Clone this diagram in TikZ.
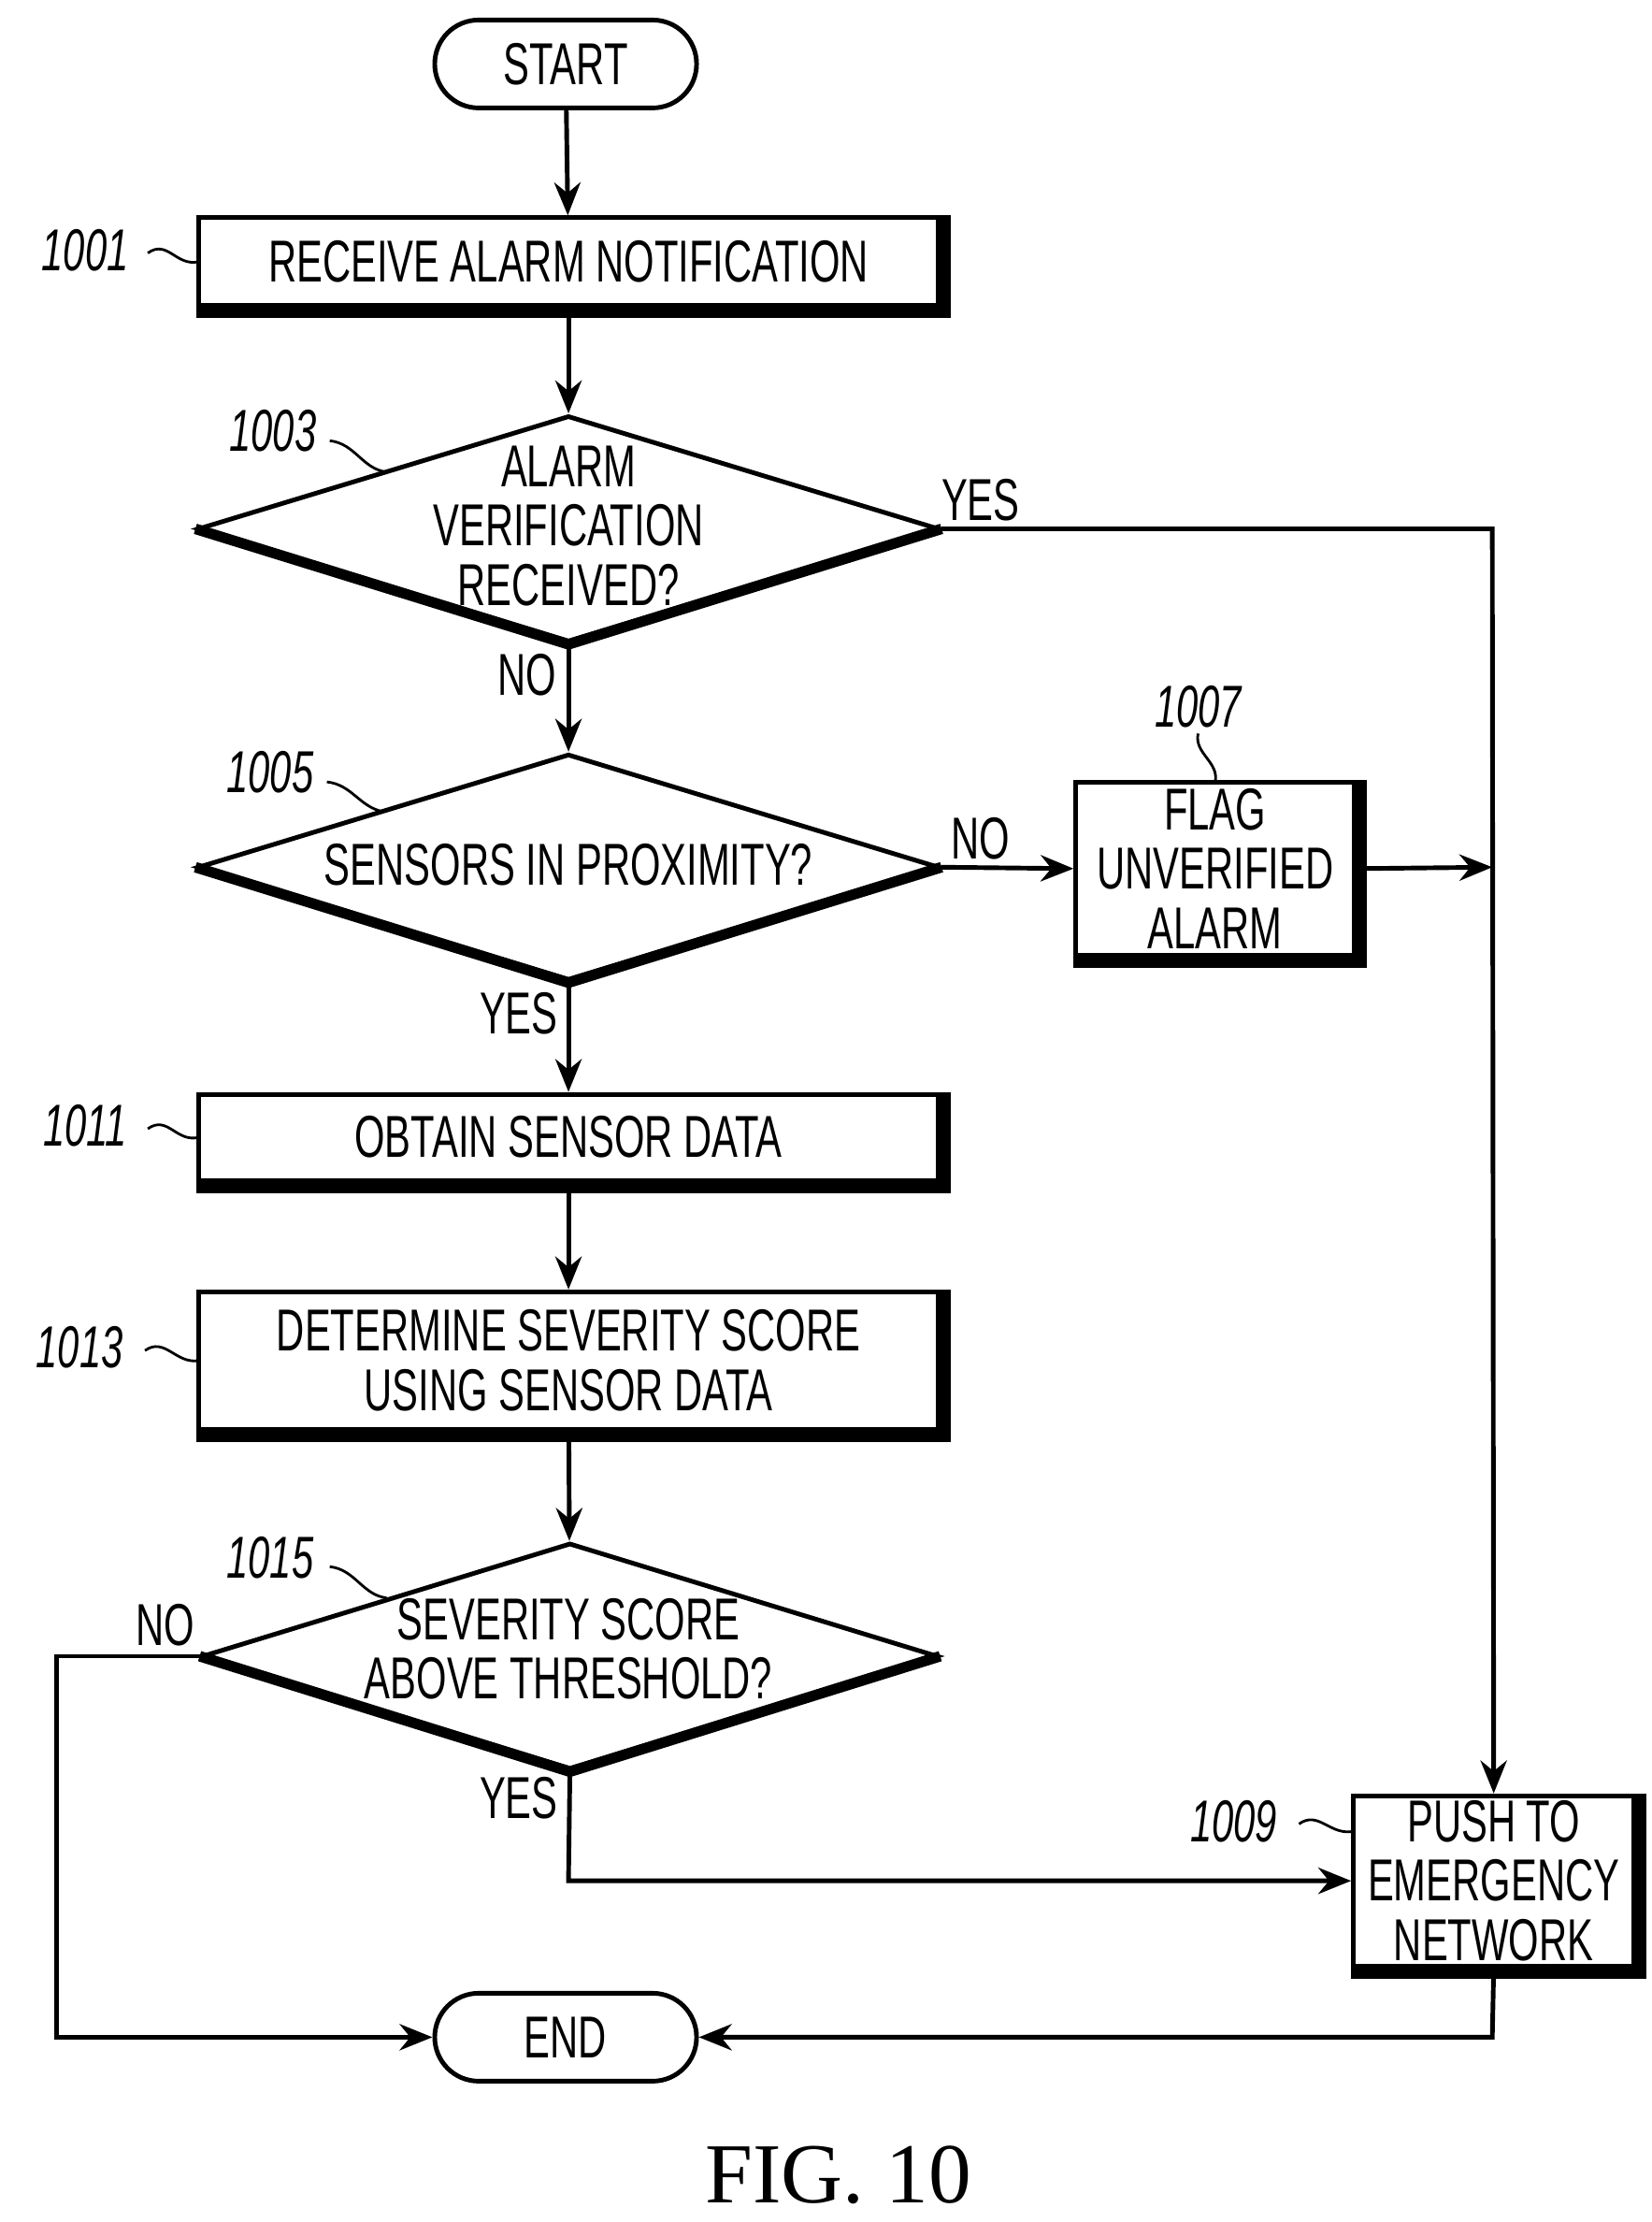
\documentclass[tikz,border=0pt]{standalone}
\usepackage{fontspec}
\setmainfont{Liberation Sans}[FakeStretch=0.66]
\newfontfamily\figfont{Liberation Serif}
\usetikzlibrary{shapes.geometric, shapes.misc, arrows.meta}

\tikzset{
  chart/.style={line width=1.4pt},
  procbox/.style={draw, chart, rectangle, align=center, inner sep=0pt, font=\fontsize{18}{18}\selectfont},
  term/.style={draw, chart, rounded rectangle, align=center, inner sep=0pt, minimum width=2.8cm, minimum height=0.94cm, font=\fontsize{18}{18}\selectfont},
  test/.style={draw, chart, diamond, inner sep=0pt, aspect=3.28, minimum width=7.93cm, minimum height=2.42cm},
  txt/.style={align=center, inner sep=0pt, font=\fontsize{18}{18}\selectfont},
  flow/.style={chart, -{Stealth[length=10pt,width=8pt]}},
  shade/.style={line width=3.2pt},
  refno/.style={font=\itshape\fontsize{18}{18}\selectfont},
  lbl/.style={font=\fontsize{18}{18}\selectfont}
}

\begin{document}
\begin{tikzpicture}[x=0.0152cm, y=-0.0152cm]
\useasboundingbox (0,0) rectangle (1162,1563);

% terminals and steps
\node[term] (start) at (398,45) {START};
\node[procbox, minimum width=7.9cm, minimum height=0.94cm] (s1001) at (400,184) {RECEIVE ALARM NOTIFICATION};
\node[test] (s1003) at (400,372) {};
\node[txt] (t1003) at (400,370) {ALARM\\VERIFICATION\\RECEIVED?};
\node[test] (s1005) at (400,610) {};
\node[txt] (t1005) at (400,608) {SENSORS IN PROXIMITY?};
\node[procbox, minimum width=2.98cm, minimum height=1.85cm] (s1007) at (855,611) {FLAG\\UNVERIFIED\\ALARM};
\node[procbox, minimum width=7.9cm, minimum height=0.92cm] (s1011) at (400,800) {OBTAIN SENSOR DATA};
\node[procbox, minimum width=7.9cm, minimum height=1.47cm] (s1013) at (400,957) {DETERMINE SEVERITY SCORE\\USING SENSOR DATA};
\node[test, minimum width=7.87cm] (s1015) at (401,1165) {};
\node[txt] (t1015) at (400,1160) {SEVERITY SCORE\\ABOVE THRESHOLD?};
\node[procbox, minimum width=3.0cm, minimum height=1.82cm] (s1009) at (1051,1323) {PUSH TO\\EMERGENCY\\NETWORK};
\node[term] (end) at (398,1433) {END};

% shadows
\foreach \n in {s1001,s1007,s1011,s1013,s1009}
  \draw[shade] ([xshift=1.5pt]\n.north east) -- ([xshift=1.5pt,yshift=-1.5pt]\n.south east) -- ([yshift=-1.5pt]\n.south west);
\foreach \n in {s1003,s1005,s1015}
  \draw[shade] (\n.east) -- (\n.south) -- (\n.west);

% connectors
\coordinate (j1) at (1050,372);
\coordinate (j2) at (1050,610);
\coordinate (j3) at (40,1165);
\coordinate (j4) at (40,1433);
\coordinate (j5) at (400,1323);
\coordinate (j6) at (1050,1433);
\draw[flow] (start) -- (s1001);
\draw[flow] (s1001) -- (s1003);
\draw[flow] (s1003.east) -- (j1) -- (s1009.north);
\draw[flow] (s1003) -- (s1005);
\draw[flow] (s1005.east) -- (s1007.west);
\draw[flow] (s1007.east) -- (j2);
\draw[flow] (s1005) -- (s1011);
\draw[flow] (s1011) -- (s1013);
\draw[flow] (s1013) -- (s1015);
\draw[flow] (s1015.west) -- (j3) -- (j4) -- (end.west);
\draw[flow] (s1015.south) -- (j5) -- (s1009.west);
\draw[flow] (s1009.south) -- (j6) -- (end.east);

% branch labels
\node[lbl] (yes1) at (690,352) {YES};
\node[lbl] (no1) at (371,475) {NO};
\node[lbl] (no2) at (690,590) {NO};
\node[lbl] (yes2) at (365,713) {YES};
\node[lbl] (no3) at (116,1143) {NO};
\node[lbl] (yes3) at (365,1265) {YES};

% reference numbers
\node[refno] (r1001) at (60,176) {1001};
\draw[chart, line width=0.8pt] (104,178) .. controls (118,168) and (124,188) .. (140,184);
\node[refno] (r1003) at (192,303) {1003};
\draw[chart, line width=0.8pt] (232,310) .. controls (250,312) and (255,330) .. (272,332);
\node[refno] (r1005) at (190,543) {1005};
\draw[chart, line width=0.8pt] (230,550) .. controls (248,552) and (253,568) .. (270,571);
\node[refno] (r1007) at (843,497) {1007};
\draw[chart, line width=0.8pt] (843,516) .. controls (840,530) and (858,536) .. (855,550);
\node[refno] (r1011) at (60,792) {1011};
\draw[chart, line width=0.8pt] (104,794) .. controls (118,784) and (124,804) .. (140,800);
\node[refno] (r1013) at (56,948) {1013};
\draw[chart, line width=0.8pt] (102,950) .. controls (116,940) and (124,960) .. (140,957);
\node[refno] (r1015) at (190,1096) {1015};
\draw[chart, line width=0.8pt] (232,1102) .. controls (250,1104) and (255,1122) .. (272,1124);
\node[refno] (r1009) at (868,1281) {1009};
\draw[chart, line width=0.8pt] (914,1283) .. controls (928,1273) and (936,1292) .. (953,1288);

\node[font=\figfont\fontsize{26}{30}\selectfont] (fig) at (590,1530) {FIG. 10};
\end{tikzpicture}
\end{document}
